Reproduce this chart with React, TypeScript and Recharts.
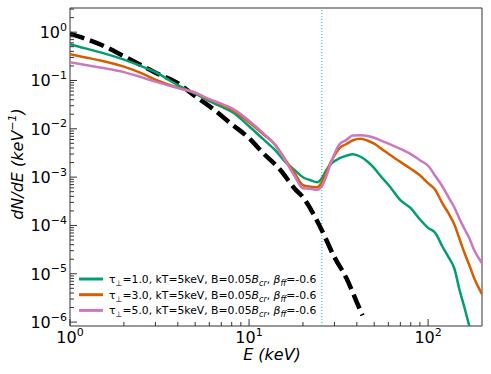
import { LineChart, Line, XAxis, YAxis, ReferenceLine, ReferenceArea, Legend } from "recharts"

// energy grid (keV) shared by the three Monte-Carlo spectra
const energy = [
  1, 1.2, 1.5, 2, 2.5, 3, 4, 5, 6, 7, 8, 10, 12, 14, 16, 18, 20, 22, 24, 25.5, 27, 29, 32, 35, 38, 42, 46, 50, 55, 60,
  70, 80, 90, 100, 110, 120, 130, 140, 150, 160, 170, 180, 200,
]

// dN/dE for tau = 1, 3, 5
const tau1 = [
  0.565, 0.467, 0.377, 0.27, 0.198, 0.149, 0.08, 0.0533, 0.0372, 0.0287, 0.0226, 0.0113, 0.0061, 0.0036, 0.00203,
  0.00139, 0.000995, 0.000863, 0.000783, 0.000948, 0.00139, 0.00194, 0.00246, 0.00277, 0.00298, 0.00264, 0.00208,
  0.00153, 0.000995, 0.000696, 0.000333, 0.000227, 0.000134, 8.9e-5, 6.9e-5, 3.71e-5, 2.2e-5, 1.3e-5, 4.55e-6, 1.93e-6,
  8.2e-7, null, null,
]
const tau3 = [
  0.351, 0.303, 0.257, 0.193, 0.142, 0.104, 0.071, 0.0558, 0.04, 0.0316, 0.0248, 0.0137, 0.00773, 0.00469, 0.00224,
  0.0012, 0.000679, 0.000632, 0.000618, 0.000783, 0.00126, 0.00224, 0.004, 0.00484, 0.0058, 0.00624, 0.00565, 0.00492,
  0.00384, 0.00305, 0.00207, 0.00149, 0.00109, 0.000748, 0.000536, 0.000288, 0.000179, 0.000106, 5.18e-5, 2.65e-5,
  1.5e-5, 8.47e-6, 3.77e-6,
]
const tau5 = [
  0.239, 0.212, 0.184, 0.149, 0.117, 0.0944, 0.0693, 0.0558, 0.041, 0.0331, 0.0267, 0.0147, 0.0081, 0.00457, 0.00213,
  0.00104, 0.000589, 0.000575, 0.00055, 0.000649, 0.00104, 0.00224, 0.0048, 0.0059, 0.0073, 0.00736, 0.0071, 0.00651,
  0.00562, 0.00494, 0.00384, 0.00298, 0.00224, 0.00172, 0.00104, 0.000648, 0.000384, 0.000238, 0.000135, 8.34e-5,
  5.43e-5, 3.21e-5, 1.65e-5,
]

// seed (dashed) spectrum
const seedEnergy = [1, 1.5, 2, 3, 4, 5, 6, 8, 10, 12, 15, 18, 20, 25, 30, 35, 40, 43]
const seedFlux = [
  0.93, 0.543, 0.318, 0.145, 0.0879, 0.0473, 0.0294, 0.01245, 0.00638, 0.00313, 0.00139, 0.000575, 0.000384, 9.2e-5,
  2.2e-5, 8.05e-6, 2.57e-6, 1.38e-6,
]

const cycEnergy = 25.5
const tauLabels = ["1.0", "3.0", "5.0"]
const colors = ["#029e73", "#d55e00", "#cc78bc"]

const xDomain = [1, 200]
const yDomain = [8.3e-7, 3.16]
const xMajor = [1, 10, 100]
const xMinor = [2, 3, 4, 5, 6, 7, 8, 9, 20, 30, 40, 50, 60, 70, 80, 90]
const yMajor = [1e-6, 1e-5, 1e-4, 1e-3, 1e-2, 1e-1, 1]
const minorMult = [2, 3, 4, 5, 6, 7, 8, 9]
const yMinor = yMajor.flatMap((d) => minorMult.map((m) => m * d)).filter((v) => v < yDomain[1])

const toPts = (xs: number[], ys: (number | null)[]) =>
  xs.map((x, i) => ({ x, y: ys[i] })).filter((p) => p.y != null)

const series = [tau1, tau3, tau5].map((ys) => toPts(energy, ys))
const seed = toPts(seedEnergy, seedFlux)

const isMajor = (v: number) => Math.abs(Math.log10(v) - Math.round(Math.log10(v))) < 1e-6
const expOf = (v: number) => String(Math.round(Math.log10(v))).replace("-", "\u2212")
const frame = "#333"

const XTick = (props: any) => {
  const { x, y, payload } = props
  const v = payload.value
  const major = isMajor(v)
  return (
    <g>
      <line x1={x} x2={x} y1={y} y2={y - (major ? 7 : 4)} stroke={frame} strokeWidth={1} />
      {major && (
        <text x={x} y={y + 17} textAnchor="middle" fontSize={16} fill="#000">
          10
          <tspan dy={-7.5} fontSize={11}>
            {expOf(v)}
          </tspan>
        </text>
      )}
    </g>
  )
}

const YTick = (props: any) => {
  const { x, y, payload } = props
  const v = payload.value
  const major = isMajor(v)
  return (
    <g>
      <line x1={x} x2={x + (major ? 7 : 4)} y1={y} y2={y} stroke={frame} strokeWidth={1} />
      {major && (
        <text x={x - 3} y={y + 6} textAnchor="end" fontSize={16} fill="#000">
          10
          <tspan dy={-7.5} fontSize={11}>
            {expOf(v)}
          </tspan>
        </text>
      )}
    </g>
  )
}

const LegendBox = () => (
  <svg width={270} height={52} style={{ overflow: "visible", display: "block" }}>
    {tauLabels.map((t, i) => {
      const cy = 9 + i * 15.7
      return (
        <g key={t}>
          <line x1={9} x2={33} y1={cy} y2={cy} stroke={colors[i]} strokeWidth={3} />
          <text x={39} y={cy + 4} fontSize={10.8} fill="#000">
            τ
            <tspan dy={3} fontSize={8}>⊥</tspan>
            <tspan dy={-3}>={t}, kT=5keV, B=0.05</tspan>
            <tspan fontStyle="italic">B</tspan>
            <tspan dy={3} fontSize={8} fontStyle="italic">cr</tspan>
            <tspan dy={-3}>, </tspan>
            <tspan fontStyle="italic">β</tspan>
            <tspan dy={3} fontSize={8} fontStyle="italic">ff</tspan>
            <tspan dy={-3}>=-0.6</tspan>
          </text>
        </g>
      )
    })}
  </svg>
)

export default function App() {
  return (
    <div
      style={{
        position: "absolute",
        left: 0,
        top: 0,
        width: 491,
        height: 374,
        background: "#fff",
        fontFamily: "DejaVu Sans",
      }}
    >
      <LineChart width={491} height={374} margin={{ top: 8, right: 9, left: 30, bottom: 18 }}>
        <XAxis
          dataKey="x"
          type="number"
          scale="log"
          domain={xDomain}
          allowDataOverflow
          ticks={[...xMajor, ...xMinor]}
          interval={0}
          tick={<XTick />}
          tickLine={false}
          axisLine={false}
          tickSize={0}
          tickMargin={0}
          height={30}
        />
        <YAxis
          dataKey="y"
          type="number"
          scale="log"
          domain={yDomain}
          allowDataOverflow
          ticks={[...yMajor, ...yMinor]}
          interval={0}
          tick={<YTick />}
          tickLine={false}
          axisLine={false}
          tickSize={0}
          tickMargin={0}
          width={40}
        />
        <ReferenceArea
          x1={xDomain[0]}
          x2={xDomain[1]}
          y1={yDomain[0]}
          y2={yDomain[1]}
          fill="none"
          stroke={frame}
          strokeWidth={1}
          ifOverflow="visible"
        />
        <ReferenceLine x={cycEnergy} stroke="#00bfbf" strokeWidth={1} strokeDasharray="1 2" />
        <Line
          data={seed}
          dataKey="y"
          type="monotone"
          stroke="#000"
          strokeWidth={4.5}
          strokeDasharray="15 6"
          dot={false}
          isAnimationActive={false}
          legendType="none"
        />
        {series.map((pts, i) => (
          <Line
            key={i}
            data={pts}
            dataKey="y"
            type="monotone"
            stroke={colors[i]}
            strokeWidth={2.5}
            dot={false}
            isAnimationActive={false}
          />
        ))}
        <Legend
          layout="horizontal"
          verticalAlign="middle"
          align="center"
          content={<LegendBox />}
          wrapperStyle={{ left: 70, top: 270, width: 270, height: 52 }}
        />
      </LineChart>
      <svg width={491} height={374} style={{ position: "absolute", left: 0, top: 0, pointerEvents: "none" }}>
        <text x={272} y={360} textAnchor="middle" fontSize={16} fontStyle="italic" fill="#000">
          E (keV)
        </text>
        <text
          x={23}
          y={164}
          textAnchor="middle"
          fontSize={16}
          fontStyle="italic"
          fill="#000"
          transform="rotate(-90 23 164)"
        >
          dN/dE (keV
          <tspan dy={-7} fontSize={11}>
            {"\u22121"}
          </tspan>
          <tspan dy={7}>)</tspan>
        </text>
      </svg>
    </div>
  )
}
